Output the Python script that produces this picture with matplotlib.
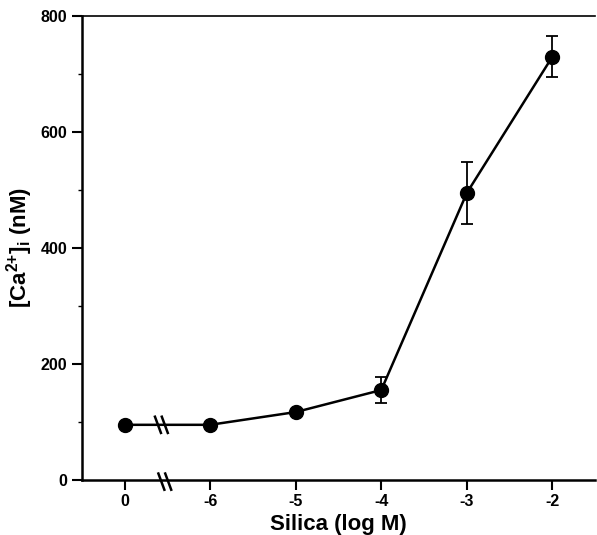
import matplotlib
matplotlib.use("Agg")
import matplotlib.pyplot as plt
import numpy as np

plt.rcParams["font.family"] = ["Liberation Sans", "DejaVu Sans"]
plt.rcParams["font.weight"] = "bold"
plt.rcParams["mathtext.fontset"] = "custom"
plt.rcParams["mathtext.rm"] = "Liberation Sans:bold"
plt.rcParams["mathtext.it"] = "Liberation Sans:bold"
plt.rcParams["mathtext.bf"] = "Liberation Sans:bold"

# ---- data ----
x_labels = ["0", "-6", "-5", "-4", "-3", "-2"]
ca_mean = [95, 95, 117, 155, 495, 730]
ca_err = [0, 0, 0, 23, 54, 35]

x = np.arange(len(x_labels))

fig = plt.figure(figsize=(5.97, 5.35), dpi=100)
ax = fig.add_axes([0.137, 0.103, 0.86, 0.867])

ax.errorbar(x, ca_mean, yerr=ca_err, fmt="o-", color="k", ms=10, lw=1.8,
            capsize=4, elinewidth=1.3, capthick=1.3)

ax.set_xlim(-0.5, 5.5)
ax.set_ylim(0, 800)
ax.set_xticks(x)
ax.set_xticklabels(x_labels)
ax.set_yticks([0, 200, 400, 600, 800])
ax.set_yticks([100, 300, 500, 700], minor=True)

ax.tick_params(which="major", direction="out", length=7, width=1.5, labelsize=11.5)
ax.tick_params(which="minor", direction="out", length=3, width=1)

ax.spines["right"].set_visible(False)
ax.spines["left"].set_linewidth(1.8)
ax.spines["bottom"].set_linewidth(1.8)
ax.spines["top"].set_linewidth(1.2)

# break marks (\\) on the line and on the x axis
for c, yy in [(0.43, ca_mean[0]), (0.47, -3)]:
    for dx in [-0.04, 0.04]:
        ax.plot([c + dx - 0.04, c + dx + 0.04], [yy + 16, yy - 16],
                color="k", lw=1.8, clip_on=False, solid_capstyle="butt")

ax.set_xlabel("Silica (log M)", fontsize=16, fontweight="bold", labelpad=3)
ax.set_ylabel(r"[Ca$^{2{+}}$]$_{\mathrm{i}}$ (nM)", fontsize=16,
              fontweight="bold", labelpad=4)

plt.savefig("out.png", dpi=100)
